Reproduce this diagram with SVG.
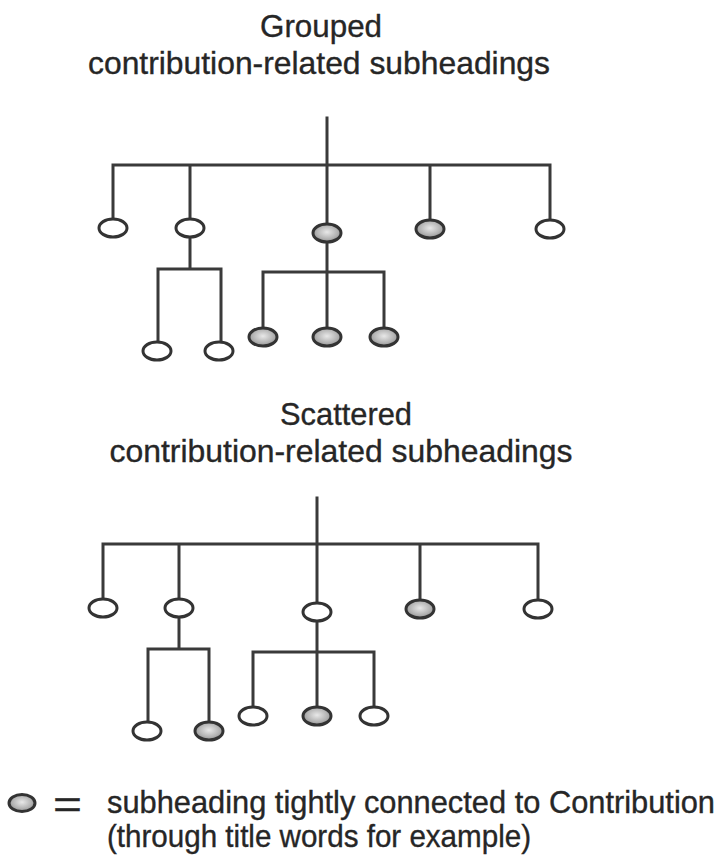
<svg xmlns="http://www.w3.org/2000/svg" width="720" height="858" viewBox="0 0 720 858">
  <defs>
    <radialGradient id="shade" cx="50%" cy="45%" r="60%">
      <stop offset="0" stop-color="#e8e8e8"/>
      <stop offset="0.6" stop-color="#b4b4b4"/>
      <stop offset="1" stop-color="#8a8a8a"/>
    </radialGradient>
    <style>
      .ln { fill: none; stroke: #3a3a3a; stroke-width: 3; stroke-linecap: square; }
      .nd { stroke: #333; stroke-width: 3; }
      .open { fill: #fff; }
      .hit { fill: url(#shade); }
      .t { font-family: "Liberation Sans", Arial, sans-serif; fill: #262626; stroke: #262626; stroke-width: 0.35; }
      .h { font-size: 32px; text-anchor: middle; }
      .lg { font-size: 30.5px; }
    </style>
  </defs>

  <rect width="720" height="858" fill="#fff"/>

  <!-- titles -->
  <text class="t h" x="321" y="37" textLength="122" lengthAdjust="spacingAndGlyphs">Grouped</text>
  <text class="t h" x="319" y="74" textLength="462" lengthAdjust="spacingAndGlyphs">contribution-related subheadings</text>
  <text class="t h" x="346" y="425" textLength="132" lengthAdjust="spacingAndGlyphs">Scattered</text>
  <text class="t h" x="341" y="462" textLength="463" lengthAdjust="spacingAndGlyphs">contribution-related subheadings</text>

  <!-- tree connectors -->
  <g id="connectors">
    <!-- grouped tree -->
    <path class="ln" d="M327 118 V165 M113 165 H550 M113 165 V218 M190 165 V218 M327 165 V223 M430 165 V219 M550 165 V219"/>
    <path class="ln" d="M190 238 V269 M158 269 H221 M158 269 V341 M221 269 V341"/>
    <path class="ln" d="M327 243 V272 M263 272 H384 M263 272 V327 M327 272 V327 M384 272 V327"/>
    <!-- scattered tree -->
    <path class="ln" d="M317 498 V544 M103 544 H538 M103 544 V598 M179 544 V598 M317 544 V602 M420 544 V599 M538 544 V599"/>
    <path class="ln" d="M179 618 V649 M148 649 H209 M148 649 V721 M209 649 V721"/>
    <path class="ln" d="M317 622 V652 M253 652 H374 M253 652 V706 M317 652 V706 M374 652 V706"/>
  </g>

  <!-- grouped tree nodes -->
  <g id="g-n1"><ellipse class="nd open" cx="113" cy="228" rx="14" ry="9"/></g>
  <g id="g-n2"><ellipse class="nd open" cx="190" cy="228" rx="14" ry="9"/></g>
  <g id="g-n3"><ellipse class="nd hit" cx="327" cy="233" rx="14" ry="9"/></g>
  <g id="g-n4"><ellipse class="nd hit" cx="430" cy="229" rx="14" ry="9"/></g>
  <g id="g-n5"><ellipse class="nd open" cx="550" cy="229" rx="14" ry="9"/></g>
  <g id="g-n2a"><ellipse class="nd open" cx="157" cy="351" rx="14" ry="9"/></g>
  <g id="g-n2b"><ellipse class="nd open" cx="219" cy="351" rx="14" ry="9"/></g>
  <g id="g-n3a"><ellipse class="nd hit" cx="263" cy="337" rx="14" ry="9"/></g>
  <g id="g-n3b"><ellipse class="nd hit" cx="327" cy="337" rx="14" ry="9"/></g>
  <g id="g-n3c"><ellipse class="nd hit" cx="384" cy="337" rx="14" ry="9"/></g>

  <!-- scattered tree nodes -->
  <g id="s-n1"><ellipse class="nd open" cx="103" cy="608" rx="14" ry="9"/></g>
  <g id="s-n2"><ellipse class="nd open" cx="179" cy="608" rx="14" ry="9"/></g>
  <g id="s-n3"><ellipse class="nd open" cx="317" cy="612" rx="14" ry="9"/></g>
  <g id="s-n4"><ellipse class="nd hit" cx="420" cy="609" rx="14" ry="9"/></g>
  <g id="s-n5"><ellipse class="nd open" cx="538" cy="609" rx="14" ry="9"/></g>
  <g id="s-n2a"><ellipse class="nd open" cx="147" cy="731" rx="14" ry="9"/></g>
  <g id="s-n2b"><ellipse class="nd hit" cx="209" cy="731" rx="14" ry="9"/></g>
  <g id="s-n3a"><ellipse class="nd open" cx="253" cy="716" rx="14" ry="9"/></g>
  <g id="s-n3b"><ellipse class="nd hit" cx="317" cy="716" rx="14" ry="9"/></g>
  <g id="s-n3c"><ellipse class="nd open" cx="374" cy="716" rx="14" ry="9"/></g>

  <!-- legend -->
  <g id="legend">
    <ellipse class="nd hit" cx="22" cy="803" rx="13" ry="8.5"/>
    <text class="t" x="53" y="818" font-size="38" textLength="29" lengthAdjust="spacingAndGlyphs">=</text>
    <text class="t lg" x="107" y="813" textLength="608" lengthAdjust="spacingAndGlyphs">subheading tightly connected to Contribution</text>
    <text class="t lg" x="107" y="847" textLength="424" lengthAdjust="spacingAndGlyphs">(through title words for example)</text>
  </g>
</svg>
